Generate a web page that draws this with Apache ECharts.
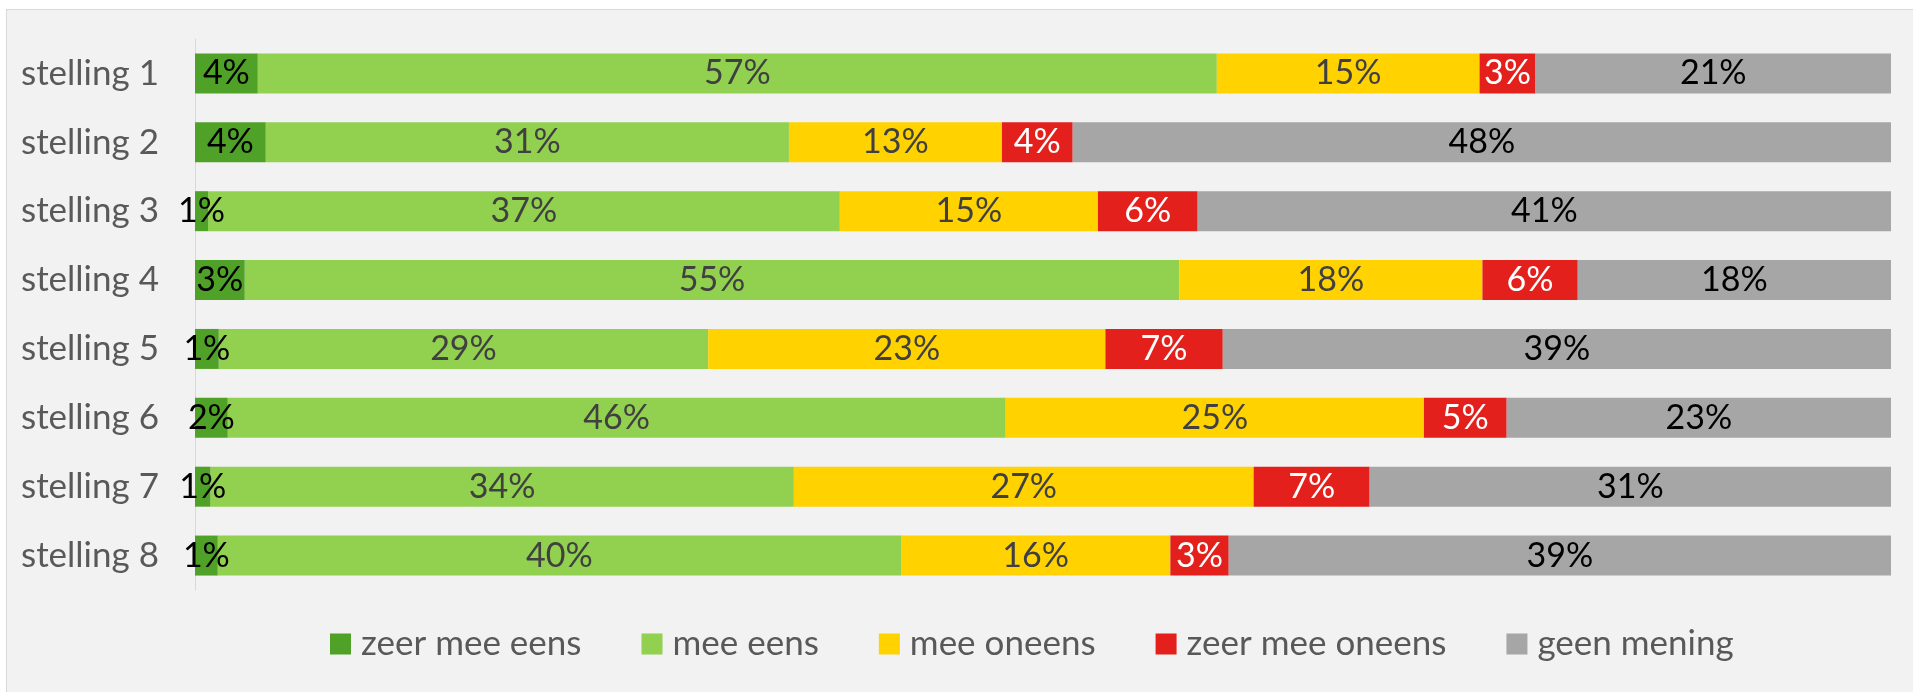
<!DOCTYPE html>
<html>
<head>
<meta charset="utf-8">
<script src="https://cdn.jsdelivr.net/npm/echarts@6/dist/echarts.min.js"></script>
<style>
    html, body {
        margin: 0;
        padding: 0;
        background: #ffffff;
    }
    .frame {
        position: absolute;
        left: 6px;
        top: 9px;
        width: 1920px;
        height: 700px;
        background: #f2f2f2;
        border: 1px solid #d9d9d9;
    }
    .com-chart {
        position: absolute;
        left: 0;
        top: 0;
        width: 1913px;
        height: 692px;
    }
</style>
</head>
<body>
<div class="frame"></div>
<div class="com-chart" id="stelling_ref"></div>
<script>
const categories = ['stelling 1', 'stelling 2', 'stelling 3', 'stelling 4', 'stelling 5', 'stelling 6', 'stelling 7', 'stelling 8']
const seriesNames = ['zeer mee eens', 'mee eens', 'mee oneens', 'zeer mee oneens', 'geen mening']
const zeerMeeEens = [3.70, 4.17, 0.77, 2.93, 1.40, 1.93, 0.91, 1.34]
const meeEens = [56.55, 30.85, 37.25, 55.11, 28.86, 45.87, 34.40, 40.29]
const meeOneens = [15.49, 12.56, 15.22, 17.87, 23.42, 24.66, 27.11, 15.88]
const zeerMeeOneens = [3.30, 4.17, 5.88, 5.62, 6.92, 4.88, 6.84, 3.44]
const geenMening = [21.01, 48.25, 40.88, 18.47, 39.40, 22.66, 30.74, 39.05]

const colors = ['#50a127', '#92d050', '#ffd200', '#e3201b', '#a6a6a6']
const labelColors = ['#000000', '#404040', '#404040', '#ffffff', '#000000']
const fontFamily = 'Lato, "Open Sans", sans-serif'

const chartInstance = echarts.init(document.getElementById('stelling_ref'))

const seriesArr = [zeerMeeEens, meeEens, meeOneens, zeerMeeOneens, geenMening].map((data, i) => ({
    name: seriesNames[i],
    type: 'bar',
    stack: 'totaal',
    barWidth: 40,
    z: i === 0 ? 4 : 2,
    data: data,
    itemStyle: {
        color: colors[i]
    },
    label: {
        show: true,
        position: 'inside',
        color: labelColors[i],
        fontFamily: fontFamily,
        fontSize: 34,
        formatter: p => Math.round(p.value) + '%'
    },
    emphasis: {
        disabled: true
    }
}))

const option = {
    animation: false,
    color: colors,
    grid: {
        left: 195,
        right: 22,
        top: 39,
        bottom: 102
    },
    legend: {
        left: 325,
        top: 619,
        itemWidth: 21,
        itemHeight: 21,
        itemGap: 60,
        icon: 'rect',
        textStyle: {
            color: '#595959',
            fontFamily: fontFamily,
            fontSize: 35,
            lineHeight: 40,
            padding: [0, 0, 0, 5]
        },
        data: seriesNames
    },
    xAxis: {
        type: 'value',
        min: 0,
        max: 100,
        show: false
    },
    yAxis: {
        type: 'category',
        inverse: true,
        data: categories,
        axisLine: {
            lineStyle: {
                color: '#d9d9d9',
                width: 1
            }
        },
        axisTick: {
            show: false
        },
        axisLabel: {
            margin: 36,
            color: '#595959',
            fontFamily: fontFamily,
            fontSize: 35
        }
    },
    series: seriesArr
}
chartInstance.setOption(option)
</script>
</body>
</html>
